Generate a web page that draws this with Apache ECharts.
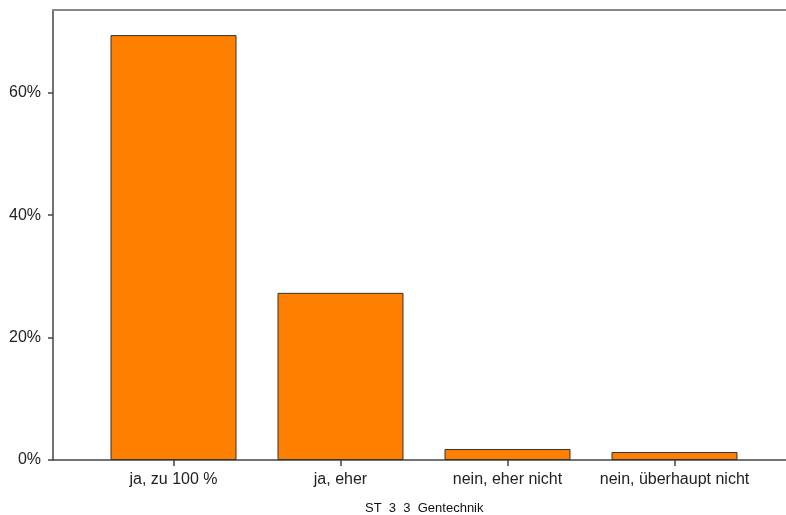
<!DOCTYPE html>
<html><head><meta charset="utf-8">
<script src="https://cdn.jsdelivr.net/npm/echarts@6/dist/echarts.min.js"></script>
<style>html,body{margin:0;padding:0;background:#fff}#c{width:786px;height:515px}</style>
</head><body><div id="c"></div>
<script>
const categories = ["ja, zu 100 %", "ja, eher", "nein, eher nicht", "nein, überhaupt nicht"];
const percentValues = [69.4, 27.3, 1.8, 1.3];
const yTicks = [0, 20, 40, 60];
const chartTitle = "ST  3  3  Gentechnik";

const chart = echarts.init(document.getElementById('c'), null, {renderer: 'canvas'});
const font = '"Liberation Sans", Arial, sans-serif';
const yMax = 73.5;
chart.setOption({
  animation: false,
  title: {
    text: chartTitle, left: 365, top: 502, padding: 0,
    textStyle: {fontFamily: font, fontSize: 13, fontWeight: 'normal', color: '#111'}
  },
  grid: [
    {left: 53, right: 0, top: 10, bottom: 55},
    {left: 90, width: 668, top: 10, bottom: 55}
  ],
  xAxis: [
    {gridIndex: 0, type: 'value', min: 0, max: 1, position: 'bottom',
     axisLine: {show: true, lineStyle: {color: '#444', width: 1.5}},
     axisTick: {show: false}, axisLabel: {show: false}, splitLine: {show: false}},
    {gridIndex: 0, type: 'value', min: 0, max: 1, position: 'top',
     axisLine: {show: true, lineStyle: {color: '#888', width: 2}},
     axisTick: {show: false}, axisLabel: {show: false}, splitLine: {show: false}},
    {gridIndex: 1, type: 'category', data: categories, position: 'bottom',
     axisLine: {show: false},
     axisTick: {show: true, alignWithLabel: true, length: 6, lineStyle: {color: '#444', width: 1.5}},
     axisLabel: {fontFamily: font, fontSize: 16, color: '#222', margin: 12, interval: 0}}
  ],
  yAxis: [
    {gridIndex: 0, type: 'value', min: 0, max: yMax,
     axisLine: {show: true, lineStyle: {color: '#444', width: 1.5}},
     axisTick: {show: true, length: 5, lineStyle: {color: '#444', width: 1.5},
       customValues: yTicks},
     axisLabel: {fontFamily: font, fontSize: 16, color: '#222', margin: 12,
       customValues: yTicks, formatter: v => v + '%'},
     splitLine: {show: false}},
    {gridIndex: 1, type: 'value', min: 0, max: yMax, show: false}
  ],
  series: [{
    type: 'bar', xAxisIndex: 2, yAxisIndex: 1, data: percentValues,
    barWidth: 126,
    itemStyle: {color: '#FF8000', borderColor: '#333', borderWidth: 1}
  }]
});
</script></body></html>
